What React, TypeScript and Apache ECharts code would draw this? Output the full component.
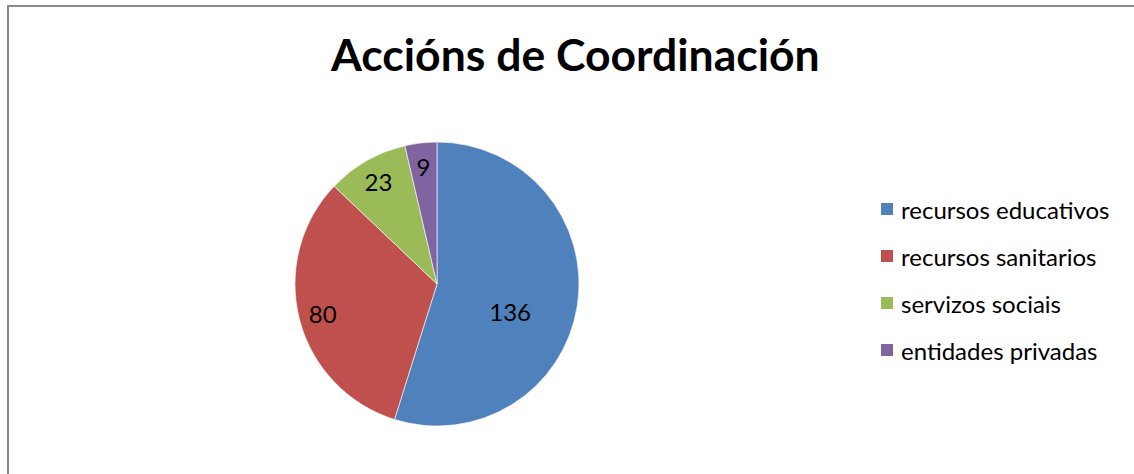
import React, { useEffect, useRef } from "react";
import * as echarts from "echarts";

const title = "Accións de Coordinación";
const categories = ["recursos educativos", "recursos sanitarios", "servizos sociais", "entidades privadas"];
const values = [136, 80, 23, 9];
const colors = ["#4F81BD", "#C0504D", "#9BBB59", "#8064A2"];
// labels drawn by the main pie (centre-ish) vs. the outer label ring
const innerLabel = [true, false, false, false];

const FONT = "Lato, 'Open Sans', sans-serif";

export default function App() {
  const ref = useRef<HTMLDivElement>(null);
  useEffect(() => {
    if (!ref.current) return;
    const chart = echarts.init(ref.current, undefined, { renderer: "svg" });
    const base = categories.map((name, i) => ({
      name,
      value: values[i],
      itemStyle: { color: colors[i] },
    }));
    chart.setOption({
      animation: false,
      backgroundColor: "#ffffff",
      title: {
        text: title,
        left: 326,
        top: 26,
        textStyle: { fontFamily: FONT, fontSize: 44.5, fontWeight: "bold", color: "#000" },
      },
      legend: {
        orient: "vertical",
        left: 874,
        top: 192,
        itemWidth: 14,
        itemHeight: 14,
        itemGap: 23,
        icon: "rect",
        data: categories,
        textStyle: { fontFamily: FONT, fontSize: 24, color: "#000", padding: [0, 0, 0, 2] },
      },
      graphic: [
        {
          type: "polyline",
          shape: { points: [[8, 474], [8, 6], [1134, 6]] },
          style: { stroke: "#8a8a8a", lineWidth: 2, fill: "none" },
          silent: true,
        },
      ],
      series: [
        {
          type: "pie",
          center: [437, 284],
          radius: [0, 142],
          startAngle: 90,
          clockwise: true,
          silent: true,
          itemStyle: { borderColor: "#ffffff", borderWidth: 0.6 },
          label: {
            show: true,
            position: "inside",
            formatter: "{c}",
            fontFamily: FONT,
            fontSize: 24,
            color: "#000",
          },
          labelLayout: { dy: 16 },
          labelLine: { show: false },
          data: base.map((d, i) => ({ ...d, label: { show: innerLabel[i] } })),
        },
        {
          type: "pie",
          center: [437, 284],
          radius: [88, 142],
          startAngle: 90,
          clockwise: true,
          silent: true,
          itemStyle: { color: "rgba(0,0,0,0)" },
          label: {
            show: true,
            position: "inside",
            formatter: "{c}",
            fontFamily: FONT,
            fontSize: 24,
            color: "#000",
          },
          labelLine: { show: false },
          data: categories.map((name, i) => ({
            name,
            value: values[i],
            label: { show: !innerLabel[i] },
          })),
        },
      ],
    });
    return () => chart.dispose();
  }, []);
  return (
    <div
      ref={ref}
      style={{ position: "fixed", left: 0, top: 0, width: 1134, height: 474 }}
    />
  );
}
